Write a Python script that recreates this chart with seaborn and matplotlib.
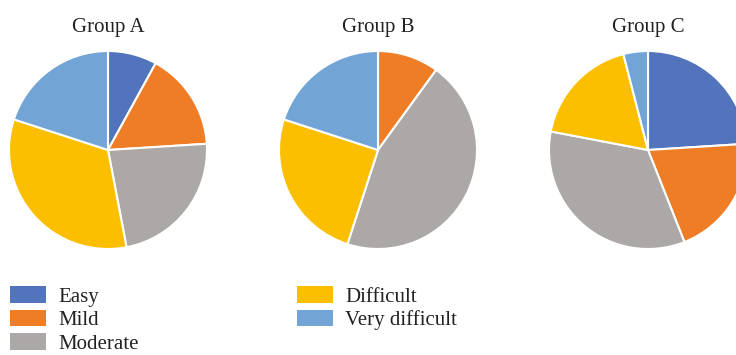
import matplotlib
matplotlib.use("Agg")
import matplotlib.pyplot as plt
import matplotlib.patches as mpatches
import seaborn as sns

categories = ["Easy", "Mild", "Moderate", "Difficult", "Very difficult"]
groups = ["Group A", "Group B", "Group C"]
group_a = [8, 16, 23, 33, 20]
group_b = [0, 10, 45, 25, 20]
group_c = [24, 20, 34, 18, 4]
colors = ["#5274BD", "#EE7D26", "#ACA8A7", "#FCBF00", "#72A5D6"]

sns.set_theme(style="white")
plt.rcParams["font.family"] = ["Liberation Serif", "DejaVu Serif"]
palette = sns.color_palette(colors)

W, H = 736, 355
fig = plt.figure(figsize=(W / 100, H / 100), dpi=100)

centers_x = [108, 378, 648]
center_y = 150
r = 99
for name, vals, cx in zip(groups, [group_a, group_b, group_c], centers_x):
    ax = fig.add_axes([(cx - r) / W, (H - center_y - r) / H, 2 * r / W, 2 * r / H])
    ax.pie(vals, colors=palette, startangle=90, counterclock=False, radius=1,
           wedgeprops=dict(edgecolor="white", linewidth=1.5))
    ax.set_xlim(-1, 1)
    ax.set_ylim(-1, 1)
    ax.set_aspect("equal")
    ax.axis("off")
    fig.text(cx / W, 1 - 32 / H, name, ha="center", va="baseline",
             fontsize=15, color="#222222")

# legend in two columns below the pies
handles = [mpatches.Patch(facecolor=c, edgecolor="none") for c in palette]
fs = 15
for idx, x0 in [([0, 1, 2], 10), ([3, 4], 297)]:
    leg = fig.legend([handles[i] for i in idx], [categories[i] for i in idx],
                     loc="upper left", bbox_to_anchor=(x0 / W, 1 - 286 / H),
                     frameon=False, fontsize=fs, borderpad=0, borderaxespad=0,
                     handlelength=1.75, handleheight=0.85, handletextpad=0.55,
                     labelspacing=0.15)
    for t in leg.get_texts():
        t.set_color("#222222")

fig.savefig("out.png", dpi=100)
